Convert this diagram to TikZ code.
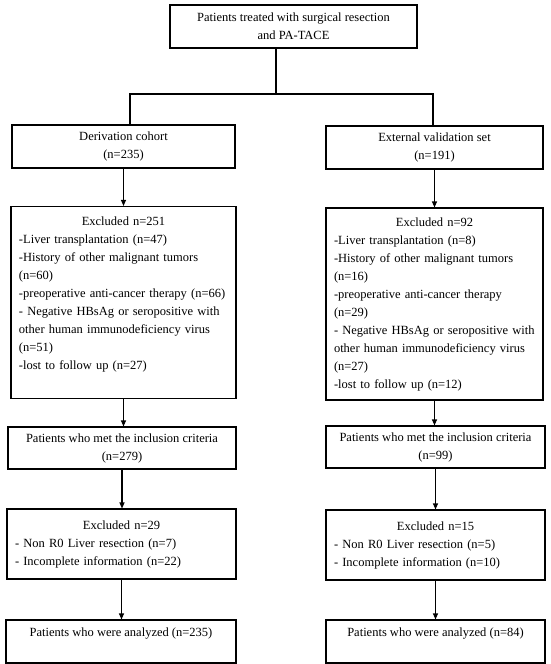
\documentclass[tikz,border=0pt]{standalone}
\usepackage{fontspec}
\setmainfont{Liberation Serif}
\usetikzlibrary{arrows.meta}

\begin{document}
\begin{tikzpicture}[x=1pt, y=-1pt, line width=1.1pt,
    >={Triangle[length=6pt,width=5pt]},
    every node/.style={font=\fontsize{12.5}{18}\selectfont, inner ysep=2pt},
    box/.style={draw, align=center, inner xsep=8pt},
    listbox/.style={draw, align=left, inner xsep=8pt}]
    \useasboundingbox (0,0) rectangle (550,664);

    % Starting node
    \node[box, minimum width=247pt, minimum height=43pt] (top) at (293.5,26.5) {Patients treated with surgical resection\\and PA-TACE};

    % Cohorts
    \node[box, minimum width=223pt, minimum height=43pt] (deriv) at (123.5,146.5) {Derivation cohort\\(n=235)};
    \node[box, minimum width=217pt, minimum height=43pt] (valid) at (434.5,147.5) {External validation set\\(n=191)};

    % First exclusion
    \node[listbox, text width=209pt, minimum height=192pt] (exclL) at (123.5,302.5) {\makebox[\hsize]{Excluded n=251}\\
        -Liver transplantation (n=47)\\
        -History of other malignant tumors\\
        (n=60)\\
        -preoperative anti-cancer therapy (n=66)\\
        - Negative HBsAg or seropositive with\\
        other human immunodeficiency virus\\
        (n=51)\\
        -lost to follow up (n=27)\\
        \mbox{}};
    \node[listbox, text width=201pt, minimum height=192pt] (exclR) at (434.5,304) {\makebox[\hsize]{Excluded n=92}\\
        -Liver transplantation (n=8)\\
        -History of other malignant tumors\\
        (n=16)\\
        -preoperative anti-cancer therapy\\
        (n=29)\\
        - Negative HBsAg or seropositive with\\
        other human immunodeficiency virus\\
        (n=27)\\
        -lost to follow up (n=12)};

    % Inclusion
    \node[box, minimum width=228pt, minimum height=42pt] (metL) at (122,448) {Patients who met the inclusion criteria\\(n=279)};
    \node[box, minimum width=219pt, minimum height=42pt] (metR) at (435.5,447) {Patients who met the inclusion criteria\\(n=99)};

    % Second exclusion
    \node[listbox, text width=213pt, minimum height=70pt] (exTwoL) at (121.5,544) {\makebox[\hsize]{Excluded n=29}\\
        - Non R0 Liver resection (n=7)\\
        - Incomplete information (n=22)};
    \node[listbox, text width=203pt, minimum height=70pt] (exTwoR) at (435.5,545) {\makebox[\hsize]{Excluded n=15}\\
        - Non R0 Liver resection (n=5)\\
        - Incomplete information (n=10)};

    % Analyzed
    \node[box, minimum width=230pt, minimum height=43pt] (finL) at (121,641.5) {Patients who were analyzed (n=235)\\\mbox{}};
    \node[box, minimum width=219pt, minimum height=43pt] (finR) at (435.5,641.5) {Patients who were analyzed (n=84)\\\mbox{}};

    % Split
    \coordinate (split) at (276,94);
    \coordinate (jl) at (130,94);
    \coordinate (jr) at (433,94);
    \draw (split |- top.south) -- (split);
    \draw (jl |- deriv.north) -- (jl) -- (jr) -- (jr |- valid.north);

    % Arrows
    \draw[->] (deriv.south) -- (deriv.south |- exclL.north);
    \draw[->] (valid.south) -- (valid.south |- exclR.north);
    \draw[->] (exclL.south) -- (exclL.south |- metL.north);
    \draw[->] (exclR.south) -- (exclR.south |- metR.north);
    \draw[->] (metL.south) -- (metL.south |- exTwoL.north);
    \draw[->] (metR.south) -- (metR.south |- exTwoR.north);
    \draw[->] (exTwoL.south) -- (exTwoL.south |- finL.north);
    \draw[->] (exTwoR.south) -- (exTwoR.south |- finR.north);
\end{tikzpicture}
\end{document}
